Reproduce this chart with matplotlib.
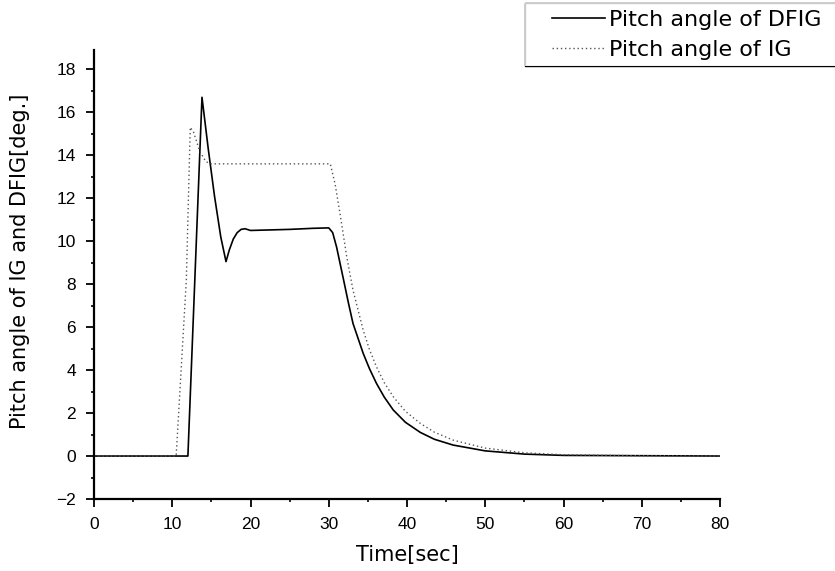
import matplotlib
matplotlib.use("Agg")
import numpy as np
import matplotlib.pyplot as plt
from matplotlib.ticker import MultipleLocator
from matplotlib.legend_handler import HandlerLine2D
from matplotlib.lines import Line2D

plt.rcParams['font.family'] = ['DejaVu Sans']

# DFIG pitch angle (time [s], angle [deg])
t_dfig = [0, 12.0, 13.8, 14.6, 15.4, 16.2, 16.87, 17.3, 17.8, 18.3, 18.8, 19.3,
          20.0, 22.0, 25.0, 28.0, 30.0, 30.5, 31.0, 31.9, 32.5, 33.1, 34.4, 35.2,
          36.1, 37.1, 38.25, 39.8, 41.7, 43.5, 45.9, 50.0, 55.0, 60.0, 80.0]
y_dfig = [0, 0, 16.7, 14.3, 12.1, 10.2, 9.05, 9.6, 10.1, 10.4, 10.55, 10.58,
          10.5, 10.52, 10.55, 10.6, 10.62, 10.4, 9.73, 8.19, 7.15, 6.17, 4.78, 4.07,
          3.38, 2.74, 2.14, 1.57, 1.10, 0.78, 0.51, 0.24, 0.09, 0.03, 0]

# IG pitch angle
t_ig = [0, 10.5, 11.8, 12.3, 12.7, 13.5, 14.3, 15.0, 30.2, 30.8, 31.44, 32.3,
        33.1, 34.4, 35.2, 36.1, 37.1, 38.25, 39.8, 41.7, 43.5, 45.9, 50.0, 55.0,
        60.0, 70.0, 80.0]
y_ig = [0, 0, 8.2, 15.3, 15.1, 14.2, 13.7, 13.6, 13.6, 12.68, 11.29, 9.27,
        7.72, 5.86, 4.96, 4.15, 3.41, 2.76, 2.08, 1.52, 1.11, 0.74, 0.37, 0.15,
        0.06, 0.01, 0]

labels = ["Pitch angle of DFIG", "Pitch angle of IG"]
xlabel = "Time[sec]"
ylabel = "Pitch angle of IG and DFIG[deg.]"
yticks = list(range(-2, 19, 2))
xticks = list(range(0, 81, 10))


class PadHandler(HandlerLine2D):
    def get_xdata(self, legend, xdescent, ydescent, width, height, fontsize):
        xdata, xm = super().get_xdata(legend, xdescent, ydescent, width, height, fontsize)
        xdata = np.asarray(xdata, dtype=float)
        xdata[0] = xdata[0] + 0.28 * width
        return xdata, xm


fig = plt.figure(figsize=(8.35, 5.71), dpi=100)
ax = fig.add_axes([94/835, 1-499/571, (720-94)/835, (499-50)/571])

l1, = ax.plot(t_dfig, y_dfig, color='black', lw=1.2, label=labels[0])
l2, = ax.plot(t_ig, y_ig, color='#555555', lw=1.0, ls=(0, (1, 2)), label=labels[1])

ax.set_xlim(0, 80)
ax.set_ylim(-2, 18.9)
ax.xaxis.set_minor_locator(MultipleLocator(5))
ax.yaxis.set_minor_locator(MultipleLocator(1))
ax.set_xticks(xticks)
ax.set_xticklabels([str(v) for v in xticks], family='Liberation Sans', fontsize=12.5)
ax.set_yticks(yticks)
ax.set_yticklabels([('\u2212' + str(-v)) if v < 0 else str(v) for v in yticks],
                   family='Liberation Sans', fontsize=12.5)

for s in ['top', 'right']:
    ax.spines[s].set_visible(False)
for s in ['left', 'bottom']:
    ax.spines[s].set_linewidth(1.6)

ax.tick_params(which='major', direction='out', length=6, width=1.3, pad=7)
ax.tick_params(which='minor', direction='out', length=2.5, width=1.2)

ax.set_xlabel(xlabel, fontsize=15, labelpad=9)
ax.set_ylabel(ylabel, fontsize=15, labelpad=19, y=0.53)

leg = fig.legend(handles=[l1, l2], loc='upper left',
                 bbox_to_anchor=(525/835, 1-3/571-0.01, 0.5, 0.01),
                 bbox_transform=fig.transFigure, mode='expand',
                 fontsize=16, frameon=True, fancybox=False, edgecolor='none',
                 borderpad=0.3, handlelength=3.3, handletextpad=0.2,
                 labelspacing=0.45, borderaxespad=0,
                 handler_map={l1: PadHandler(), l2: PadHandler()})

# open-sided frame (right side runs off the figure, as in the original)
fig.canvas.draw()
bb = leg.get_frame().get_window_extent().transformed(fig.transFigure.inverted())
fig.add_artist(Line2D([1.0, bb.x0, bb.x0, 1.0], [bb.y1, bb.y1, bb.y0, bb.y0],
                      transform=fig.transFigure, color='black', lw=1.0))

fig.savefig('out.png', dpi=100)
